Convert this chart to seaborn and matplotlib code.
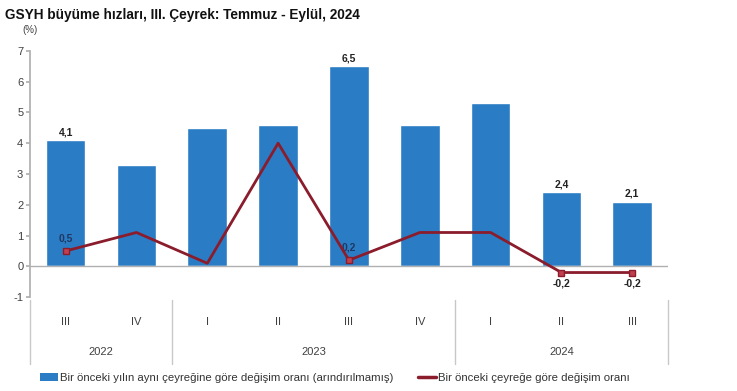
import matplotlib
matplotlib.use("Agg")
import matplotlib.pyplot as plt
import matplotlib.transforms as mtransforms
from matplotlib.lines import Line2D
from matplotlib.patches import Patch
import seaborn as sns
import numpy as np
import pandas as pd

sns.set_theme(style="white")
plt.rcParams["font.family"] = ["Liberation Sans", "DejaVu Sans"]
plt.rcParams["axes.unicode_minus"] = False

ceyrekler = ["III", "IV", "I", "II", "III", "IV", "I", "II", "III"]
yillar = ["2022", "2023", "2024"]
yil_araliklari = [(-0.5, 1.5), (1.5, 5.5), (5.5, 8.5)]
yillik = [4.1, 3.3, 4.5, 4.6, 6.5, 4.6, 5.3, 2.4, 2.1]
ceyreklik = [0.5, 1.1, 0.1, 4.0, 0.2, 1.1, 1.1, -0.2, -0.2]
yillik_etiket = {0: "4,1", 4: "6,5", 7: "2,4", 8: "2,1"}
ceyreklik_etiket = {0: "0,5", 4: "0,2", 7: "-0,2", 8: "-0,2"}

mavi = "#2a7cc4"
kirmizi = "#8b1c2c"

df = pd.DataFrame({"donem": [f"{i}_{q}" for i, q in enumerate(ceyrekler)],
                   "yillik": yillik, "ceyreklik": ceyreklik})

fig = plt.figure(figsize=(7.37, 3.91), dpi=100)
ax = fig.add_axes([0.041, 0.240, 0.865, 0.630])

sns.barplot(data=df, x="donem", y="yillik", color=mavi, width=0.56,
            saturation=1, ax=ax)
ax.plot(np.arange(len(ceyreklik)), ceyreklik, color=kirmizi, lw=2,
        marker="s", markersize=4, markerfacecolor="#c04050",
        markeredgecolor=kirmizi, markevery=list(ceyreklik_etiket.keys()), zorder=4)

ax.axhline(0, color="#b0b0b0", lw=1, zorder=1)
ax.set_xlim(-0.5, 8.5)
ax.set_ylim(-1, 7)
ax.set_yticks(range(-1, 8))
ax.tick_params(axis="y", labelsize=8, labelcolor="#404040", length=3,
               color="#b0b0b0", left=True, pad=2)
ax.set_xticks([])
ax.set_xlabel("")
ax.set_ylabel("")
for s in ["top", "right", "bottom"]:
    ax.spines[s].set_visible(False)
ax.spines["left"].set_color("#b0b0b0")

for i, t in yillik_etiket.items():
    ax.text(i, yillik[i] + 0.1, t, ha="center", va="bottom", fontsize=7.5,
            fontweight="bold", color="#222222")
for i, t in ceyreklik_etiket.items():
    if ceyreklik[i] >= 0:
        ax.text(i, ceyreklik[i] + 0.25, t, ha="center", va="bottom", fontsize=7.5,
                fontweight="bold", color="#1f3864")
    else:
        ax.text(i, ceyreklik[i] - 0.2, t, ha="center", va="top", fontsize=7.5,
                fontweight="bold", color="#222222")

tr = mtransforms.blended_transform_factory(ax.transData, fig.transFigure)
for i, q in enumerate(ceyrekler):
    fig.text(i, 0.176, q, transform=tr, ha="center", va="center",
             fontsize=8, color="#404040")
for yil, (a, b) in zip(yillar, yil_araliklari):
    fig.text((a + b) / 2, 0.099, yil, transform=tr, ha="center", va="center",
             fontsize=8, color="#404040")
for x in [-0.5, 1.5, 5.5, 8.5]:
    fig.add_artist(Line2D([x, x], [0.233, 0.068], transform=tr,
                          color="#c8c8c8", lw=1))

fig.text(0.007, 0.962, "GSYH büyüme hızları, III. Çeyrek: Temmuz - Eylül, 2024",
         fontsize=9.8, fontweight="bold", color="#111111", va="center")
fig.text(0.030, 0.922, "(%)", fontsize=7, color="#404040", va="center")

tutamaklar = [Patch(facecolor=mavi, edgecolor="none"),
              Line2D([0], [0], color=kirmizi, lw=2.5)]
fig.legend(tutamaklar,
           ["Bir önceki yılın aynı çeyreğine göre değişim oranı (arındırılmamış)",
            "Bir önceki çeyreğe göre değişim oranı"],
           loc="center left", bbox_to_anchor=(0.04, 0.033), ncol=2, frameon=False,
           fontsize=8.2, handlelength=1.6, handletextpad=0.2, columnspacing=2.1,
           labelcolor="#333333")

fig.savefig("out.png", dpi=100)
